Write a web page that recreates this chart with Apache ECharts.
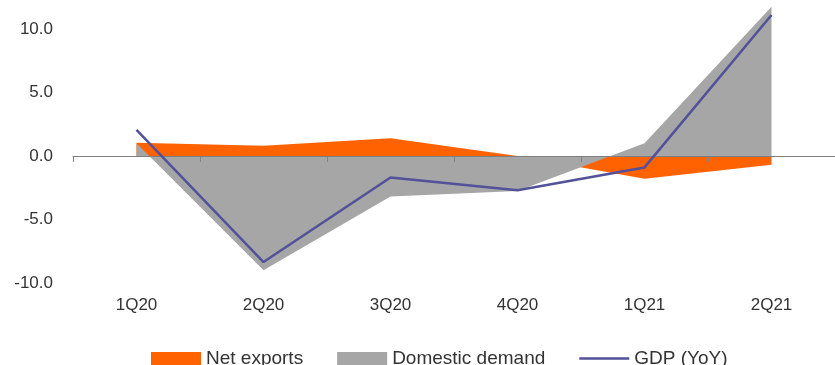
<!DOCTYPE html>
<html>
<head>
<meta charset="utf-8">
<script src="https://cdn.jsdelivr.net/npm/echarts@6/dist/echarts.min.js"></script>
<style>html,body{margin:0;padding:0;background:#fff;}#c{width:835px;height:365px;}</style>
</head>
<body>
<div id="c"></div>
<script>
const categories = ['1Q20', '2Q20', '3Q20', '4Q20', '1Q21', '2Q21'];
const netExports = [1.05, 0.8, 1.4, 0.0, -1.8, -0.7];
const domesticDemand = [1.0, -9.0, -3.2, -2.75, 1.0, 11.75];
const gdp = [2.05, -8.35, -1.7, -2.7, -0.9, 11.1];
const yTicks = [-10, -5, 0, 5, 10];

const chart = echarts.init(document.getElementById('c'), null, {renderer: 'canvas'});
const font = 'Liberation Sans';
chart.setOption({
  animation: false,
  grid: {left: 73, right: -8, top: 1, height: 282},
  legend: {
    left: 151, top: 349, padding: 0, itemGap: 34, itemWidth: 50, itemHeight: 13,
    textStyle: {fontFamily: font, fontSize: 19, color: '#333'},
    data: [
      {name: 'Net exports', icon: 'rect'},
      {name: 'Domestic demand', icon: 'rect'},
      {name: 'GDP (YoY)', icon: 'path://M0,0H50V2.5H0Z'}
    ]
  },
  xAxis: [
    {type: 'category', data: categories, position: 'bottom', boundaryGap: true,
     axisLine: {show: false, onZero: false}, axisTick: {show: false},
     axisLabel: {margin: 14, fontFamily: font, fontSize: 17, color: '#333'}},
    {type: 'category', data: categories, position: 'bottom', boundaryGap: true, z: 5,
     axisLine: {show: true, onZero: true, lineStyle: {color: '#808080', width: 1}},
     axisTick: {show: true, length: 6, lineStyle: {color: '#808080'}},
     axisLabel: {show: false}}
  ],
  yAxis: {
    type: 'value', min: -10, max: 12.2, interval: 5,
    splitLine: {show: false}, axisLine: {show: false}, axisTick: {show: false},
    axisLabel: {margin: 20, fontFamily: font, fontSize: 17, color: '#333',
      formatter: v => yTicks.includes(v) ? v.toFixed(1) : ''}
  },
  series: [
    {name: 'Net exports', type: 'line', data: netExports, symbol: 'none', showSymbol: false, xAxisIndex: 0, z: 1,
     itemStyle: {color: '#FF6200'}, lineStyle: {width: 0}, areaStyle: {color: '#FF6200', opacity: 1}},
    {name: 'Domestic demand', type: 'line', data: domesticDemand, symbol: 'none', showSymbol: false, xAxisIndex: 0, z: 2,
     itemStyle: {color: '#A6A6A6'}, lineStyle: {width: 0}, areaStyle: {color: '#A6A6A6', opacity: 1}},
    {name: 'GDP (YoY)', type: 'line', data: gdp, symbol: 'none', showSymbol: false, xAxisIndex: 0, z: 6,
     itemStyle: {color: '#525199'}, lineStyle: {width: 2.5, color: '#525199'}}
  ]
});
</script>
</body>
</html>
